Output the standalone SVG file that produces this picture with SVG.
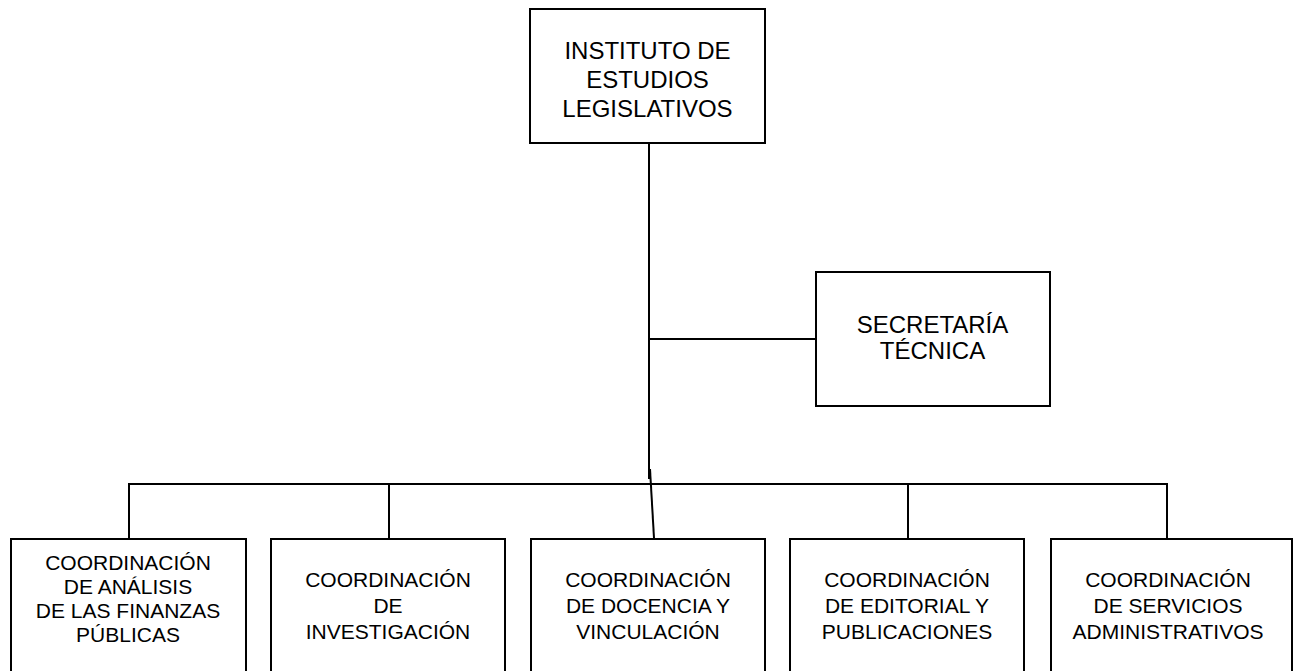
<svg xmlns="http://www.w3.org/2000/svg" width="1293" height="671" viewBox="0 0 1293 671">
<style>
.box{fill:#fff;stroke:#000;stroke-width:2}
.ln{fill:none;stroke:#000;stroke-width:2}
text{font-family:"Liberation Sans",Arial,sans-serif;fill:#000;text-anchor:middle}
.t1{font-size:24px}
.t2{font-size:21px}
</style>
<rect width="1293" height="671" fill="#fff"/>
<g id="connectors">
<path class="ln" d="M649,143 V479"/>
<path class="ln" d="M650,469 L654,538"/>
<path class="ln" d="M650,339 H816"/>
<path class="ln" d="M129,539 V484 H1167 V539"/>
<path class="ln" d="M389,484 V539"/>
<path class="ln" d="M908,484 V539"/>
</g>
<g id="instituto">
<rect class="box" x="530" y="9" width="235" height="134"/>
<text class="t1" x="647.5" y="58.5">INSTITUTO DE</text>
<text class="t1" x="647.5" y="87.5">ESTUDIOS</text>
<text class="t1" x="647.5" y="116.5">LEGISLATIVOS</text>
</g>
<g id="secretaria">
<rect class="box" x="816" y="272" width="234" height="134"/>
<text class="t1" x="932.5" y="333">SECRETARÍA</text>
<text class="t1" x="932.5" y="359">TÉCNICA</text>
</g>
<g id="finanzas">
<rect class="box" x="11" y="539" width="235" height="140"/>
<text class="t2" x="128" y="569.5">COORDINACIÓN</text>
<text class="t2" x="128" y="594">DE ANÁLISIS</text>
<text class="t2" x="128" y="618">DE LAS FINANZAS</text>
<text class="t2" x="128" y="642">PÚBLICAS</text>
</g>
<g id="investigacion">
<rect class="box" x="271" y="539" width="234" height="140"/>
<text class="t2" x="388" y="587">COORDINACIÓN</text>
<text class="t2" x="388" y="613">DE</text>
<text class="t2" x="388" y="639">INVESTIGACIÓN</text>
</g>
<g id="docencia">
<rect class="box" x="531" y="539" width="234" height="140"/>
<text class="t2" x="648" y="587">COORDINACIÓN</text>
<text class="t2" x="648" y="613">DE DOCENCIA Y</text>
<text class="t2" x="648" y="639">VINCULACIÓN</text>
</g>
<g id="editorial">
<rect class="box" x="790" y="539" width="234" height="140"/>
<text class="t2" x="907" y="587">COORDINACIÓN</text>
<text class="t2" x="907" y="613">DE EDITORIAL Y</text>
<text class="t2" x="907" y="639">PUBLICACIONES</text>
</g>
<g id="administrativos">
<rect class="box" x="1051" y="539" width="241" height="140"/>
<text class="t2" x="1168" y="587">COORDINACIÓN</text>
<text class="t2" x="1168" y="613">DE SERVICIOS</text>
<text class="t2" x="1168" y="639">ADMINISTRATIVOS</text>
</g>
</svg>
